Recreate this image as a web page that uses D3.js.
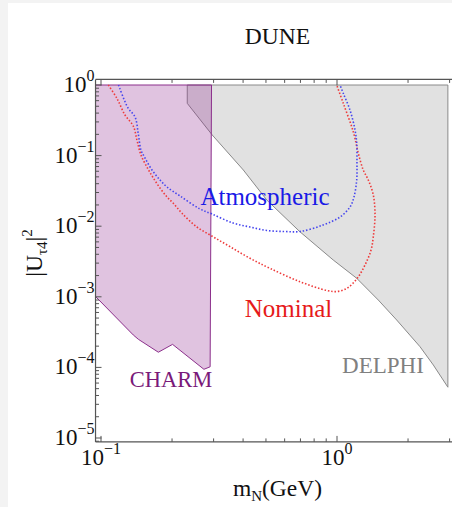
<!DOCTYPE html>
<html>
<head>
<meta charset="utf-8">
<script src="https://cdn.jsdelivr.net/npm/d3@7/dist/d3.min.js"></script>
<style>
  html, body { margin: 0; padding: 0; background: #f3f3f3; }
  svg { display: block; }
  text { font-family: "Liberation Serif", "DejaVu Serif", serif; }
</style>
</head>
<body>
<svg id="chart" width="452" height="507"></svg>
<script>
// Heavy neutral lepton sensitivity at DUNE: mass m_N (GeV) vs mixing |U_τ4|^2

// Atmospheric-flux sensitivity contour
const atmosphericMass = [0.1186, 0.1302, 0.1394, 0.1439, 0.1477, 0.1536, 0.1645, 0.1778, 0.1905, 0.2162,
  0.2627, 0.2953, 0.3624, 0.4279, 0.5050, 0.6020, 0.6970, 0.8723, 1.030, 1.135,
  1.180, 1.212, 1.215, 1.212, 1.192, 1.135, 1.063, 1.030];
const atmosphericU2 = [1.0, 0.472, 0.352, 0.202, 0.120, 0.0925, 0.0625, 0.0451, 0.0359, 0.0268,
  0.01752, 0.01489, 0.01110, 0.00974, 0.00869, 0.00841, 0.00841, 0.01040, 0.01350, 0.0187,
  0.0259, 0.0451, 0.0786, 0.1509, 0.2305, 0.4424, 0.763, 1.0];

// Nominal-flux sensitivity contour
const nominalMass = [0.1074, 0.1169, 0.1264, 0.1370, 0.1420, 0.1477, 0.1582, 0.1666, 0.1778, 0.1905,
  0.2025, 0.2204, 0.2551, 0.2982, 0.3521, 0.4279, 0.5200, 0.6970, 0.9070, 1.000,
  1.102, 1.212, 1.314, 1.394, 1.425, 1.449, 1.425, 1.357, 1.292, 1.231,
  1.172, 1.063, 0.997];
const nominalU2 = [1.0, 0.644, 0.376, 0.2626, 0.1663, 0.1020, 0.0646, 0.0482, 0.0348, 0.0259,
  0.0211, 0.01523, 0.00974, 0.00710, 0.00513, 0.00351, 0.00253, 0.001637, 0.001228, 0.001189,
  0.001319, 0.001787, 0.00282, 0.00460, 0.00710, 0.01441, 0.02767, 0.0451, 0.0625, 0.1078,
  0.2181, 0.5506, 1.0];

// CHARM excluded region (closed polygon)
const charmMass = [0.094, 0.094, 0.137, 0.144, 0.175, 0.201, 0.273, 0.290, 0.294];
const charmU2 = [1.0, 1.04e-3, 2.88e-4, 2.5e-4, 1.64e-4, 2.12e-4, 9.4e-5, 1.02e-4, 1.0];

// DELPHI excluded region (closed polygon)
const delphiMass = [0.232, 0.232, 0.296, 0.401, 0.504, 0.696, 0.964, 1.212, 1.496, 1.79, 2.249, 2.56, 2.95, 2.95];
const delphiU2 = [1.0, 0.55, 0.196, 0.0625, 0.0235, 8.36e-3, 3.32e-3, 1.83e-3, 9.0e-4, 4.69e-4, 1.96e-4, 1.08e-4, 5.24e-5, 1.0];

// Axis ticks
const xMajorTicks = [0.1, 1];
const xMajorExp = ["−1", "0"];
const xMinorTicks = [0.2, 0.3, 0.4, 0.5, 0.6, 0.7, 0.8, 0.9, 2, 3];
const yMajorTicks = [1, 1e-1, 1e-2, 1e-3, 1e-4, 1e-5];
const yMajorExp = ["0", "−1", "−2", "−3", "−4", "−5"];
const xDomain = [0.0948, 3.3];
const yDomain = [8.8e-6, 1.2];

const svg = d3.select("#chart");
svg.append("rect").attr("x", 8).attr("y", 3).attr("width", 444).attr("height", 504).attr("fill", "#ffffff");

const x = d3.scaleLog().domain([0.1, 1]).range([101, 337]);
const y = d3.scaleLog().domain([1, 1e-5]).range([85, 438]);

const plotLeft = x(xDomain[0]), plotRight = x(xDomain[1]);
const plotTop = y(yDomain[1]), plotBottom = y(yDomain[0]);

svg.append("clipPath").attr("id", "plotclip")
  .append("rect").attr("x", plotLeft).attr("y", plotTop)
  .attr("width", plotRight - plotLeft).attr("height", plotBottom - plotTop);

const plot = svg.append("g").attr("clip-path", "url(#plotclip)");

const zip = (a, b) => a.map((v, i) => [v, b[i]]);
const poly = d3.line().x(d => x(d[0])).y(d => y(d[1]));
const smooth = d3.line().x(d => x(d[0])).y(d => y(d[1])).curve(d3.curveCatmullRom.alpha(0.5));

plot.append("path")
  .attr("d", poly(zip(delphiMass, delphiU2)) + "Z")
  .attr("fill", "#808080").attr("fill-opacity", 0.24)
  .attr("stroke", "#8a8a8a").attr("stroke-width", 1);

plot.append("path")
  .attr("d", poly(zip(charmMass, charmU2)) + "Z")
  .attr("fill", "#8c238c").attr("fill-opacity", 0.27)
  .attr("stroke", "#8b2f8b").attr("stroke-width", 1);

plot.append("path")
  .attr("d", smooth(zip(nominalMass, nominalU2)))
  .attr("fill", "none").attr("stroke", "#ee3a3a").attr("stroke-width", 1.6)
  .attr("stroke-dasharray", "1.5 1.9");

plot.append("path")
  .attr("d", smooth(zip(atmosphericMass, atmosphericU2)))
  .attr("fill", "none").attr("stroke", "#4646ee").attr("stroke-width", 1.6)
  .attr("stroke-dasharray", "1.5 1.9");

// Frame and ticks
const axisColor = "#555555";
const frame = svg.append("g");
frame.append("line").attr("x1", plotLeft).attr("x2", plotRight).attr("y1", plotTop).attr("y2", plotTop)
  .attr("stroke", axisColor).attr("stroke-width", 1.2);
frame.append("line").attr("x1", plotLeft).attr("x2", plotRight).attr("y1", plotBottom).attr("y2", plotBottom)
  .attr("stroke", axisColor).attr("stroke-width", 1.2);
frame.append("line").attr("x1", plotLeft).attr("x2", plotLeft).attr("y1", plotTop).attr("y2", plotBottom)
  .attr("stroke", axisColor).attr("stroke-width", 1.2);

const xAxisTicks = xMajorTicks.map(v => ({v, len: 6})).concat(xMinorTicks.map(v => ({v, len: 3.5})));
frame.selectAll("line.xtb").data(xAxisTicks).join("line")
  .attr("x1", d => x(d.v)).attr("x2", d => x(d.v))
  .attr("y1", plotBottom).attr("y2", d => plotBottom - d.len)
  .attr("stroke", axisColor).attr("stroke-width", 1);
frame.selectAll("line.xtt").data(xAxisTicks).join("line")
  .attr("x1", d => x(d.v)).attr("x2", d => x(d.v))
  .attr("y1", plotTop).attr("y2", d => plotTop + d.len)
  .attr("stroke", axisColor).attr("stroke-width", 1);

const yMinorTicks = [];
for (let e = -6; e <= 0; e++) for (let k = 2; k <= 9; k++) {
  const v = k * Math.pow(10, e);
  if (v > yDomain[0] && v < yDomain[1]) yMinorTicks.push(v);
}
const yAxisTicks = yMajorTicks.map(v => ({v, len: 6})).concat(yMinorTicks.map(v => ({v, len: 3.5})));
frame.selectAll("line.yt").data(yAxisTicks).join("line")
  .attr("x1", plotLeft).attr("x2", d => plotLeft + d.len)
  .attr("y1", d => y(d.v)).attr("y2", d => y(d.v))
  .attr("stroke", axisColor).attr("stroke-width", 1);

// Tick labels
const labelSize = 23, supSize = 16;
yMajorTicks.forEach((v, i) => {
  const t = svg.append("text").attr("x", plotLeft - 1).attr("y", y(v) + 7)
    .attr("text-anchor", "end").attr("font-size", labelSize).attr("fill", "#111");
  t.append("tspan").text("10");
  t.append("tspan").attr("dy", -11).attr("font-size", supSize).text(yMajorExp[i]);
});
xMajorTicks.forEach((v, i) => {
  const t = svg.append("text").attr("x", x(v)).attr("y", 465)
    .attr("text-anchor", "middle").attr("font-size", labelSize).attr("fill", "#111");
  t.append("tspan").text("10");
  t.append("tspan").attr("dy", -11).attr("font-size", supSize).text(xMajorExp[i]);
});

// Title and axis titles
svg.append("text").attr("x", 277.5).attr("y", 44).attr("text-anchor", "middle")
  .attr("font-size", 23.5).attr("fill", "#111").text("DUNE");

const xt = svg.append("text").attr("x", 277.5).attr("y", 496).attr("text-anchor", "middle")
  .attr("font-size", 23.5).attr("fill", "#111");
xt.append("tspan").text("m");
xt.append("tspan").attr("dy", 5).attr("font-size", 15).text("N");
xt.append("tspan").attr("dy", -5).text("(GeV)");

const yt = svg.append("text").attr("transform", "translate(42,253) rotate(-90)")
  .attr("text-anchor", "middle").attr("font-size", 23.5).attr("fill", "#111");
yt.append("tspan").text("|U");
yt.append("tspan").attr("dy", 5).attr("font-size", 15).text("τ4");
yt.append("tspan").attr("dy", -5).text("|");
yt.append("tspan").attr("dy", -10).attr("font-size", 15).text("2");

// Region and curve labels
svg.append("text").attr("x", 265).attr("y", 205).attr("text-anchor", "middle")
  .attr("font-size", 25).attr("fill", "#1a1ae6").text("Atmospheric");
svg.append("text").attr("x", 288.5).attr("y", 316.5).attr("text-anchor", "middle")
  .attr("font-size", 25).attr("fill", "#e61a1a").text("Nominal");
svg.append("text").attr("x", 171).attr("y", 386.5).attr("text-anchor", "middle")
  .attr("font-size", 22.5).attr("fill", "#7a1a7a").text("CHARM");
svg.append("text").attr("x", 383).attr("y", 372.5).attr("text-anchor", "middle")
  .attr("font-size", 23).attr("fill", "#808080").text("DELPHI");
</script>
</body>
</html>
